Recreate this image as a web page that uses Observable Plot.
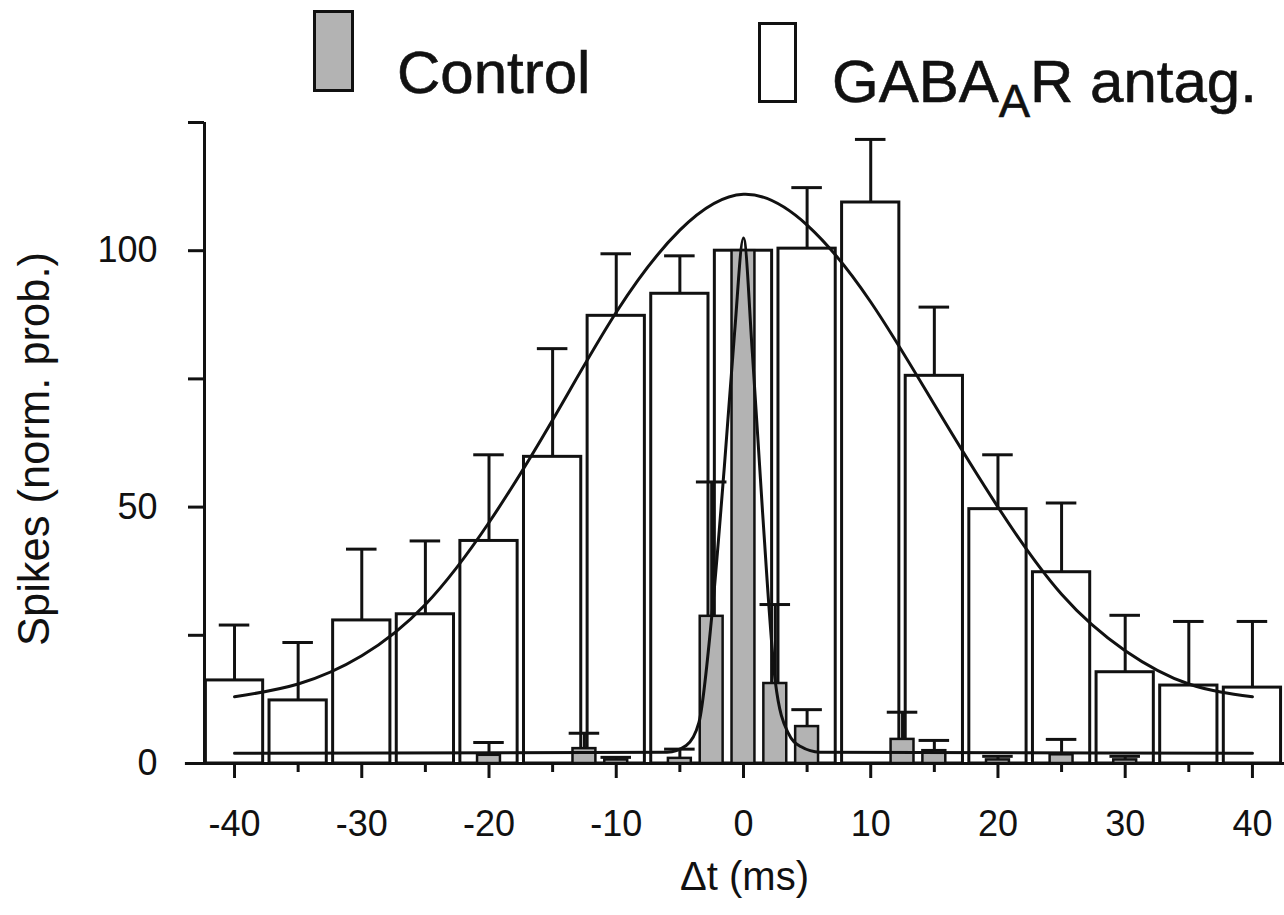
<!DOCTYPE html>
<html>
<head>
<meta charset="utf-8">
<script src="https://cdn.jsdelivr.net/npm/d3@7"></script>
<script src="https://cdn.jsdelivr.net/npm/@observablehq/plot@0.6"></script>
<style>
  body { margin: 0; background: #fff; font-family: "Liberation Sans", Arial, sans-serif; }
  #wrap { position: relative; width: 1284px; height: 915px; }
  #legend { position: absolute; left: 0; top: 0; z-index: 2; overflow: visible; }
  #chart { position: absolute; left: 0; top: 110px; }
</style>
</head>
<body>
<div id="wrap">
  <svg id="legend" width="1284" height="125" font-family="Liberation Sans, Arial, sans-serif" fill="#111">
    <rect x="314.5" y="11.5" width="38" height="79" fill="#b3b3b3" stroke="#111" stroke-width="3"></rect>
    <text x="397" y="93" font-size="60" stroke="#111" stroke-width="0.6">Control</text>
    <rect x="759.5" y="23.5" width="36" height="78" fill="#fff" stroke="#111" stroke-width="3"></rect>
    <text x="832" y="102" font-size="60" stroke="#111" stroke-width="0.6">GABA<tspan font-size="47" dy="15">A</tspan><tspan font-size="60" dy="-15">R antag.</tspan></text>
  </svg>
  <div id="chart"></div>
</div>
<script>
// GABA_A R antagonist histogram (bins of 5 ms)
const antagT   = [-40, -35, -30, -25, -20, -15, -10, -5, 0, 5, 10, 15, 20, 25, 30, 35, 40];
const antagVal = [16.2, 12.3, 27.9, 29.1, 43.4, 59.8, 87.3, 91.6, 100, 100.4, 109.4, 75.6, 49.6, 37.3, 17.8, 15.2, 14.8];
const antagErr = [27, 23.6, 41.8, 43.4, 60.2, 80.9, 99.4, 99, 100, 112.3, 121.7, 89, 60.2, 50.8, 28.9, 27.7, 27.7];

// Control histogram (bins of 2.5 ms, non-empty bins)
const ctrlT   = [-20, -12.5, -10, -5, -2.5, 0, 2.5, 5, 12.5, 15, 20, 25, 30];
const ctrlVal = [1.6, 2.9, 0.7, 1.0, 28.7, 100, 15.6, 7.2, 4.7, 2.5, 0.7, 1.7, 0.7];
const ctrlErr = [4.1, 5.9, 1.2, 2.8, 54.9, 100, 31, 10.5, 10, 4.5, 1.4, 4.7, 1.4];

// Fitted curves
const wideFitT = [-40, -35, -30, -25, -20, -15, -10, -5, 0, 5, 10, 15, 20, 25, 30, 35, 40];
const wideFitV = [13, 15.5, 21, 31, 47, 67, 88, 104, 111, 105, 90, 70, 50, 33, 22, 15.5, 13];
const narrowFitT = [-40, -6, -4.5, -3.5, -2.5, -1.5, -0.7, 0, 0.7, 1.5, 2.5, 3.5, 4.5, 6, 40];
const narrowFitV = [2, 2.2, 3.5, 8, 28.5, 58, 84, 102.5, 80, 49, 16, 6, 3.3, 2.2, 2];

const xMajor = [-40, -30, -20, -10, 0, 10, 20, 30, 40];
const xMinor = [-35, -25, -15, -5, 5, 15, 25, 35];
const yTicks = [0, 25, 50, 75, 100, 125];
const yLabeled = [0, 50, 100];

const xLabel = "Δt (ms)";
const yLabel = "Spikes (norm. prob.)";

const antag = antagT.map((t, i) => ({t, v: antagVal[i], e: antagErr[i]}));
const ctrl = ctrlT.map((t, i) => ({t, v: ctrlVal[i], e: ctrlErr[i]}));
const wideFit = wideFitT.map((t, i) => ({t, v: wideFitV[i]}));
const narrowFit = narrowFitT.map((t, i) => ({t, v: narrowFitV[i]}));

const xDomain = [-42.36, 42.52];
const ink = "#111";
const wideHalf = 2.25, ctrlHalf = 0.9, capHalf = 1.2;

const chart = Plot.plot({
  width: 1284,
  height: 805,
  marginTop: 12,
  marginLeft: 204,
  marginRight: 0,
  marginBottom: 152,
  x: {domain: xDomain},
  y: {domain: [0, 125]},
  style: {fontFamily: "Liberation Sans, Arial, sans-serif", fontSize: "36px", color: ink, background: "transparent", overflow: "visible"},
  marks: [
    // white bars
    Plot.rect(antag, {x1: d => d.t - wideHalf, x2: d => d.t + wideHalf, y1: d => 0, y2: "v", fill: "#fff", stroke: ink, strokeWidth: 3}),
    // error bars for white bars
    Plot.ruleX(antag.filter(d => d.e > d.v), {x: "t", y1: "v", y2: "e", stroke: ink, strokeWidth: 3}),
    Plot.ruleY(antag.filter(d => d.e > d.v), {y: "e", x1: d => d.t - capHalf, x2: d => d.t + capHalf, stroke: ink, strokeWidth: 3}),
    // gray control bars
    Plot.rect(ctrl, {x1: d => d.t - ctrlHalf, x2: d => d.t + ctrlHalf, y1: d => 0, y2: "v", fill: "#b3b3b3", stroke: ink, strokeWidth: 2.5}),
    Plot.ruleX(ctrl.filter(d => d.e > d.v), {x: "t", y1: "v", y2: "e", stroke: ink, strokeWidth: 3}),
    Plot.ruleY(ctrl.filter(d => d.e > d.v), {y: "e", x1: d => d.t - capHalf, x2: d => d.t + capHalf, stroke: ink, strokeWidth: 3}),
    // fits
    Plot.line(wideFit, {x: "t", y: "v", curve: "natural", stroke: ink, strokeWidth: 3}),
    Plot.line(narrowFit, {x: "t", y: "v", curve: "monotone-x", stroke: ink, strokeWidth: 3}),
    // axes
    Plot.ruleY([0], {x1: xDomain[0] - 1.5, x2: xDomain[1], stroke: ink, strokeWidth: 3}),
    Plot.ruleX([xDomain[0]], {y1: 0, y2: 125, stroke: ink, strokeWidth: 3}),
    Plot.axisX(xMajor, {tickSize: 15, tickPadding: 32, strokeWidth: 3, tickFormat: d => String(d), label: null}),
    Plot.axisX(xMinor, {tickSize: 9, strokeWidth: 3, tickFormat: () => "", label: null}),
    Plot.axisY(yTicks, {tickSize: 16, tickPadding: 31, strokeWidth: 3, tickFormat: d => yLabeled.includes(d) ? String(d) : "", label: null}),
    Plot.text([xLabel], {frameAnchor: "bottom", dy: 114, textAnchor: "middle", lineAnchor: "middle", fontSize: 40, fill: ink}),
    Plot.text([yLabel], {frameAnchor: "left", dx: -169, dy: 6, rotate: -90, textAnchor: "middle", lineAnchor: "middle", fontSize: 43.5, fill: ink})
  ]
});
document.getElementById("chart").appendChild(chart);
</script>
</body>
</html>
